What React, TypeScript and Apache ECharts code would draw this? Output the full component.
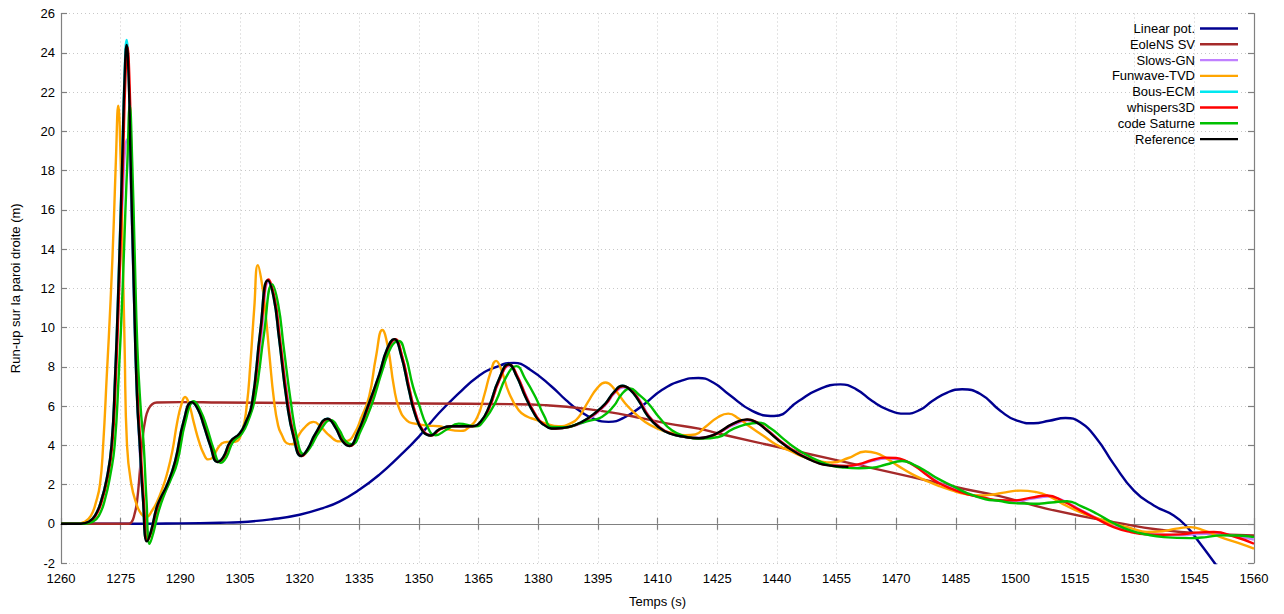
import React, { useEffect, useRef } from "react";
import * as echarts from "echarts";

const X_MIN = 1260;
const X_MAX = 1560;
const X_STEP = 15;
const Y_MIN = -2;
const Y_MAX = 26;
const Y_STEP = 2;

const seriesNames = [
  "Linear pot.",
  "EoleNS SV",
  "Slows-GN",
  "Funwave-TVD",
  "Bous-ECM",
  "whispers3D",
  "code Saturne",
  "Reference",
];
const seriesColors = [
  "#000090",
  "#A52A2A",
  "#C080FF",
  "#FFA500",
  "#00E8F0",
  "#FF0000",
  "#00C000",
  "#000000",
];

const linearPot = [
  [1260, 0], [1280, 0], [1290, 0.02], [1300, 0.05], [1305, 0.08], [1313.4, 0.24], [1320, 0.46],
  [1325.9, 0.8], [1330, 1.13], [1335, 1.73], [1340, 2.49], [1345, 3.42], [1350, 4.44], [1355, 5.63],
  [1360, 6.64], [1364.7, 7.48], [1369, 7.95], [1373.9, 8.2], [1378, 7.85], [1383.5, 6.97], [1387, 6.3],
  [1390.2, 5.78], [1394, 5.35], [1397.7, 5.19], [1402, 5.45], [1406.9, 6.13], [1411, 6.8], [1415.5, 7.25],
  [1420.3, 7.43], [1424, 7.2], [1427.9, 6.6], [1433.8, 5.75], [1439.3, 5.49], [1445.5, 6.25], [1450, 6.8],
  [1456, 7.1], [1460, 6.85], [1464, 6.25], [1468, 5.8], [1472.4, 5.61], [1476, 5.8], [1479.1, 6.25],
  [1483, 6.7], [1486.6, 6.85], [1491.2, 6.61], [1496.2, 5.76], [1500.4, 5.25], [1504.6, 5.12],
  [1508.5, 5.25], [1512.6, 5.39], [1516.3, 5.17], [1520.5, 4.32], [1524.7, 3.05], [1529.8, 1.69],
  [1534.8, 0.93], [1539.8, 0.42], [1543.2, -0.17], [1546.5, -1.02], [1550.1, -2.0], [1552, -2.5],
];

const eoleNS = [
  [1260, 0], [1277, 0], [1277.8, 0.1], [1278.5, 0.5], [1279.1, 1.1], [1279.9, 2.85], [1280.5, 4.3],
  [1281.2, 5.3], [1282, 5.85], [1283, 6.1], [1284.1, 6.18], [1290, 6.2], [1300, 6.18], [1320, 6.15],
  [1350, 6.13], [1375, 6.09], [1382, 6.04], [1387.7, 5.95], [1394, 5.8], [1400.2, 5.61], [1406, 5.38],
  [1412.7, 5.1], [1420.4, 4.85], [1425.3, 4.6], [1437.2, 4.05], [1453.9, 3.29], [1470.7, 2.53],
  [1487.5, 1.76], [1495.8, 1.42], [1508, 0.76], [1524.7, 0.08], [1541.5, -0.42], [1560, -0.59],
];

const slowsGN = [
  [1260, 0], [1265, 0], [1267, 0.1], [1268.5, 0.4], [1270, 1.1], [1271.5, 2.3], [1272.8, 4], [1273.7, 7.5],
  [1274.7, 12.5], [1275.6, 17], [1276.2, 19.3], [1276.7, 19.6], [1277.3, 18.3], [1278, 14], [1278.8, 8.5],
  [1279.6, 4.5], [1280.5, 1.6], [1281.5, -0.2], [1282.4, -0.5], [1283.4, 0], [1284.5, 0.8], [1285.5, 1.3],
  [1287, 2.0], [1289, 3.2], [1291, 5.2], [1293.1, 6.15], [1294.7, 5.8], [1296.1, 5.0], [1297.7, 4.0],
  [1299.5, 3.2], [1301, 3.45], [1302.8, 4.2], [1305.1, 4.6], [1306.7, 5.2], [1308.2, 6.2], [1310.3, 9.4],
  [1312.2, 12.3], [1313.7, 11.5], [1315, 9.5], [1317, 6.4], [1318.7, 4.4], [1320.6, 3.5], [1322.2, 3.8],
  [1324.2, 4.6], [1327.2, 5.3], [1329.2, 4.9], [1331, 4.2], [1332.7, 4.0], [1334.7, 4.6], [1337.2, 5.9],
  [1340.2, 7.6], [1342.2, 8.9], [1344, 9.35], [1345.7, 8.6], [1347.7, 6.8], [1349.2, 5.6], [1351.2, 4.7],
  [1353.2, 4.55], [1355.2, 4.8], [1358.5, 4.97], [1363.6, 4.97], [1365.7, 5.2], [1367.8, 5.95],
  [1370.2, 7.3], [1372.8, 8.05], [1374.8, 7.5], [1377, 6.5], [1379.2, 5.6], [1381.2, 5.1], [1384.5, 4.88],
  [1388.2, 4.95], [1391.2, 5.15], [1394.2, 5.55], [1397.1, 6.1], [1399.2, 6.65], [1401.5, 6.95],
  [1403.3, 6.8], [1405.5, 6.3], [1407.8, 5.5], [1410.5, 4.93], [1413.3, 4.6], [1417.3, 4.42],
  [1420.7, 4.38], [1423.3, 4.47], [1425.6, 4.65], [1429.3, 5.05], [1432.8, 5.27], [1435.3, 5.12],
  [1437.5, 4.8], [1442.5, 3.98], [1448.3, 3.3], [1454, 2.98], [1457.5, 2.93], [1460.6, 3.0], [1464, 3.2],
  [1467.5, 3.32], [1470.2, 3.3], [1472.7, 3.16], [1475.3, 2.88], [1477.7, 2.53], [1480.8, 2.1],
  [1484.5, 1.78], [1488.3, 1.5], [1492, 1.32], [1496, 1.18], [1499.8, 1.15], [1504.3, 1.28],
  [1508.3, 1.38], [1512.3, 1.15], [1516.6, 0.68], [1520.8, 0.25], [1525, -0.15], [1529.3, -0.4],
  [1533.4, -0.54], [1541.8, -0.58], [1546, -0.52], [1550.2, -0.5], [1555, -0.62], [1560, -0.81],
];

const funwave = [
  [1260, 0], [1264, 0], [1266, 0.1], [1267.5, 0.4], [1268.8, 1.1], [1269.8, 2.0], [1270.6, 4],
  [1271.5, 7.5], [1272.5, 11.5], [1273.3, 15.5], [1273.8, 18.5], [1274.4, 21.3], [1275.0, 18.5],
  [1275.5, 14], [1276.0, 9], [1276.6, 4], [1277.7, 2.0], [1279, 1.0], [1280.2, 0.5], [1281.5, 0.35],
  [1283, 0.7], [1284.1, 1.1], [1285.5, 1.8], [1286.6, 2.5], [1288, 3.7], [1289.2, 5.15], [1290.3, 6.1],
  [1291.2, 6.46], [1292.2, 6.1], [1293.4, 5.15], [1294.7, 4.2], [1295.9, 3.56], [1297, 3.28],
  [1298, 3.35], [1299.6, 3.9], [1301, 4.15], [1302, 4.17], [1303.8, 4.18], [1305.5, 4.7], [1306.7, 6.0],
  [1307.6, 8.1], [1308.6, 11], [1309.5, 13.18], [1310.4, 12.4], [1311.4, 10.8], [1312.5, 8.4],
  [1313.5, 6.4], [1314.6, 5.0], [1315.6, 4.5], [1316.8, 4.1], [1318.1, 4.05], [1319.3, 4.35],
  [1321, 4.85], [1323.5, 5.19], [1325.5, 4.9], [1327.5, 4.5], [1330, 4.2], [1332, 4.22], [1333.8, 4.6],
  [1335.5, 5.4], [1337.5, 6.5], [1339.2, 8.5], [1340.8, 9.87], [1342.2, 9.0], [1343.7, 7.0], [1345, 5.9],
  [1347, 5.25], [1349, 5.1], [1352.1, 5.0], [1355.1, 4.97], [1357.5, 4.8], [1360.5, 4.73],
  [1362.5, 4.9], [1364.7, 5.44], [1366.5, 6.6], [1368, 7.7], [1369.4, 8.3], [1370.8, 7.8], [1372.6, 6.7],
  [1375.1, 5.78], [1377.3, 5.45], [1379.3, 5.31], [1382, 5.1], [1385.1, 4.97], [1388, 5.1],
  [1390.2, 5.44], [1392.5, 6.2], [1395, 6.95], [1396.9, 7.2], [1399, 6.9], [1401.9, 6.13],
  [1404.5, 5.6], [1406.9, 5.19], [1410, 4.85], [1413, 4.65], [1417, 4.51], [1419.5, 4.55], [1422, 4.93],
  [1425.3, 5.44], [1427.8, 5.61], [1430.5, 5.35], [1433, 4.98], [1436.5, 4.5], [1439.7, 4.05],
  [1443.5, 3.7], [1447.2, 3.37], [1450.5, 3.2], [1453.9, 3.12], [1458, 3.35], [1462.3, 3.68],
  [1465, 3.6], [1467.3, 3.37], [1470.5, 2.95], [1474, 2.53], [1477.5, 2.2], [1480.7, 1.93], [1484, 1.7],
  [1487.5, 1.51], [1491.2, 1.44], [1494, 1.48], [1497.5, 1.6], [1501.3, 1.69], [1505, 1.62],
  [1508, 1.44], [1512, 1.0], [1516.3, 0.59], [1520.5, 0.28], [1524.7, 0.0], [1529, -0.22],
  [1533.1, -0.42], [1537, -0.38], [1540.5, -0.25], [1544, -0.17], [1547.5, -0.35], [1551.6, -0.68],
  [1556, -0.98], [1560, -1.27],
];

const bousECM = [
  [1260, 0], [1265, 0], [1267, 0.1], [1268.5, 0.4], [1270, 1.1], [1271.5, 2.3], [1272.7, 4], [1273.6, 7.5],
  [1274.5, 12.6], [1275.4, 18.7], [1276, 23], [1276.5, 24.65], [1277, 23], [1277.5, 18.6], [1278.3, 12],
  [1279.1, 6.5], [1279.8, 4], [1280.6, 1.3], [1281.6, -0.85], [1282.6, -0.4], [1284, 0.8], [1285, 1.3],
  [1286.7, 2.0], [1288.7, 3.2], [1290.8, 5.2], [1292.9, 6.2], [1294.5, 5.8], [1295.9, 5.0], [1297.5, 4.0],
  [1299.3, 3.15], [1300.8, 3.4], [1302.6, 4.2], [1304.9, 4.6], [1306.5, 5.2], [1308, 6.1], [1310.1, 9.8],
  [1312, 12.4], [1313.5, 11.5], [1314.8, 9.5], [1316.8, 6.2], [1318.5, 4.4], [1320.4, 3.45], [1322, 3.8],
  [1324, 4.6], [1327, 5.35], [1329, 4.9], [1330.8, 4.2], [1332.5, 3.96], [1334.5, 4.6], [1337, 5.9],
  [1340, 7.6], [1342, 8.9], [1343.8, 9.41], [1345.5, 8.6], [1347.5, 6.8], [1349, 5.6], [1351, 4.7],
  [1353, 4.5], [1355, 4.8], [1358.3, 4.97], [1363.4, 4.97], [1365.5, 5.2], [1367.6, 5.95], [1370, 7.3],
  [1372.6, 8.13], [1374.6, 7.5], [1376.8, 6.46], [1379, 5.6], [1381, 5.1], [1384.3, 4.85], [1388, 4.95],
  [1391, 5.19], [1394, 5.6], [1396.9, 6.13], [1399, 6.7], [1401.2, 7.03], [1403, 6.85], [1405.2, 6.29],
  [1407.5, 5.5], [1410.2, 4.93], [1413, 4.6], [1417, 4.42], [1420.4, 4.36],
];

const whispers3D = [
  [1260, 0], [1265, 0], [1267.2, 0.1], [1268.7, 0.4], [1270.2, 1.1], [1271.7, 2.3], [1272.9, 4],
  [1273.8, 7.5], [1274.7, 12.5], [1275.6, 18.5], [1276.2, 22.7], [1276.7, 24.3], [1277.2, 22.7],
  [1277.7, 18.5], [1278.5, 12], [1279.3, 6.5], [1280, 4], [1280.8, 1.3], [1281.8, -0.85], [1282.8, -0.35],
  [1284.2, 0.8], [1285.2, 1.3], [1286.9, 2.0], [1288.9, 3.2], [1291, 5.2], [1293.1, 6.2], [1294.7, 5.8],
  [1296.1, 5.0], [1297.7, 4.0], [1299.5, 3.15], [1301, 3.4], [1302.8, 4.2], [1305.1, 4.6], [1306.7, 5.2],
  [1308.2, 6.1], [1310.3, 9.9], [1312.2, 12.45], [1313.7, 11.5], [1315, 9.5], [1317, 6.2], [1318.7, 4.4],
  [1320.6, 3.45], [1322.2, 3.8], [1324.2, 4.6], [1327.2, 5.33], [1329.2, 4.9], [1331, 4.2], [1332.7, 3.96],
  [1334.7, 4.6], [1337.2, 5.9], [1340.2, 7.6], [1342.2, 8.9], [1344, 9.4], [1345.7, 8.6], [1347.7, 6.8],
  [1349.2, 5.6], [1351.2, 4.7], [1353.2, 4.5], [1355.2, 4.8], [1358.5, 4.97], [1363.6, 4.97],
  [1365.7, 5.2], [1367.8, 5.95], [1370.2, 7.3], [1372.8, 8.1], [1374.8, 7.5], [1377, 6.46], [1379.2, 5.6],
  [1381.2, 5.1], [1384.5, 4.85], [1388.2, 4.95], [1391.2, 5.19], [1394.2, 5.6], [1397.1, 6.13],
  [1399.2, 6.7], [1401.4, 7.0], [1403.2, 6.85], [1405.4, 6.29], [1407.7, 5.5], [1410.4, 4.93],
  [1413.2, 4.6], [1417.2, 4.42], [1420.6, 4.36], [1423.2, 4.45], [1425.5, 4.65], [1429.2, 5.1],
  [1432.7, 5.3], [1435.2, 5.15], [1437.4, 4.81], [1442.4, 3.97], [1448.2, 3.29], [1454, 2.97],
  [1457.5, 2.95], [1460.6, 3.03], [1464, 3.25], [1467.3, 3.37], [1470, 3.35], [1472.4, 3.2], [1475, 2.9],
  [1477.4, 2.53], [1480.5, 2.1], [1484.2, 1.76], [1488, 1.5], [1491.7, 1.34], [1496, 1.2], [1499.6, 1.19],
  [1504, 1.33], [1508, 1.44], [1512, 1.15], [1516.3, 0.68], [1520.5, 0.25], [1524.7, -0.17], [1529, -0.42],
  [1533.1, -0.54], [1537, -0.56], [1541.5, -0.54], [1545.5, -0.45], [1549.9, -0.42], [1555, -0.65],
  [1560, -1.02],
];

const codeSaturne = [
  [1260, 0], [1266, 0], [1268, 0.1], [1269.5, 0.4], [1271, 1.2], [1272.5, 2.6], [1273.5, 4], [1274.5, 7.5],
  [1275.5, 12], [1276.2, 16], [1276.7, 18.5], [1277.3, 21.3], [1277.9, 18.5], [1278.5, 14], [1279.2, 9],
  [1280.0, 6], [1280.8, 4], [1281.5, 1.2], [1282.3, -1.02], [1283.3, -0.4], [1284.5, 0.6], [1286, 1.5],
  [1287.5, 2.2], [1289.2, 3.1], [1291.3, 5.2], [1293.4, 6.24], [1295, 5.8], [1296.7, 4.9], [1298.4, 3.8],
  [1300.1, 3.1], [1301.6, 3.4], [1303.2, 4.15], [1305.5, 4.6], [1307, 5.2], [1308.8, 6.4], [1311, 9.6],
  [1313.1, 12.2], [1314.6, 11.2], [1316, 9], [1317.8, 6.2], [1319.4, 4.3], [1321, 3.55], [1322.7, 3.9],
  [1325, 4.7], [1327.9, 5.28], [1329.9, 4.8], [1331.6, 4.2], [1333.2, 4.05], [1335.3, 4.7], [1338, 6.0],
  [1340.8, 7.8], [1343, 9.0], [1344.9, 9.32], [1346.6, 8.6], [1348.5, 7.0], [1350, 6.1], [1352, 5.0],
  [1354.2, 4.51], [1357, 4.8], [1360, 5.1], [1364.3, 4.97], [1366.5, 5.3], [1369.3, 6.21], [1372, 7.5],
  [1374.5, 8.03], [1376.7, 7.4], [1379.3, 6.46], [1381.5, 5.5], [1383.5, 4.93], [1387, 4.92],
  [1390.2, 5.1], [1393, 5.25], [1396, 5.44], [1399, 6.0], [1401, 6.6], [1403.1, 6.89], [1405.2, 6.6],
  [1407.7, 6.13], [1410.5, 5.4], [1413.6, 4.76], [1417, 4.45], [1421.1, 4.34], [1425.3, 4.42],
  [1428.8, 4.81], [1432, 5.05], [1435.5, 5.15], [1438.5, 4.85], [1441.3, 4.39], [1444, 3.95],
  [1447.2, 3.54], [1450.5, 3.2], [1453.9, 2.95], [1457, 2.86], [1460.6, 2.83], [1464, 2.86],
  [1467.5, 3.02], [1471.5, 3.2], [1474.5, 3.0], [1477.4, 2.69], [1480.5, 2.3], [1484.2, 1.93],
  [1488, 1.55], [1492.5, 1.25], [1495.8, 1.17], [1499.6, 1.05], [1504.6, 1.02], [1509, 1.08],
  [1513, 1.15], [1516.5, 0.9], [1520.5, 0.51], [1524.5, 0.05], [1528.9, -0.34], [1533, -0.55],
  [1537.3, -0.68], [1544, -0.73], [1548, -0.68], [1551.6, -0.59], [1556, -0.6], [1560, -0.68],
];

const reference = [
  [1260, 0], [1265, 0], [1267, 0.1], [1268.5, 0.4], [1270, 1.1], [1271.5, 2.3], [1272.7, 4], [1273.6, 7.5],
  [1274.5, 12.5], [1275.4, 18.5], [1276, 22.8], [1276.5, 24.4], [1277, 22.8], [1277.5, 18.5], [1278.3, 12],
  [1279.1, 6.5], [1279.8, 4], [1280.6, 1.3], [1281.6, -0.9], [1282.6, -0.4], [1284, 0.8], [1285, 1.3],
  [1286.7, 2.0], [1288.7, 3.2], [1290.8, 5.2], [1292.9, 6.2], [1294.5, 5.8], [1295.9, 5.0], [1297.5, 4.0],
  [1299.3, 3.15], [1300.8, 3.4], [1302.6, 4.2], [1304.9, 4.6], [1306.5, 5.2], [1308, 6.1], [1310.1, 9.8],
  [1312, 12.4], [1313.5, 11.5], [1314.8, 9.5], [1316.8, 6.2], [1318.5, 4.4], [1320.4, 3.45], [1322, 3.8],
  [1324, 4.6], [1327, 5.35], [1329, 4.9], [1330.8, 4.2], [1332.5, 3.96], [1334.5, 4.6], [1337, 5.9],
  [1340, 7.6], [1342, 8.9], [1343.8, 9.41], [1345.5, 8.6], [1347.5, 6.8], [1349, 5.6], [1351, 4.7],
  [1353, 4.5], [1355, 4.8], [1358.3, 4.97], [1363.4, 4.97], [1365.5, 5.2], [1367.6, 5.95], [1370, 7.3],
  [1372.6, 8.13], [1374.6, 7.5], [1376.8, 6.46], [1379, 5.6], [1381, 5.1], [1384.3, 4.85], [1388, 4.95],
  [1391, 5.19], [1394, 5.6], [1396.9, 6.13], [1399, 6.7], [1401.2, 7.03], [1403, 6.85], [1405.2, 6.29],
  [1407.5, 5.5], [1410.2, 4.93], [1413, 4.6], [1417, 4.42], [1420.4, 4.36], [1423, 4.45], [1425.3, 4.65],
  [1429, 5.1], [1432.5, 5.32], [1435, 5.15], [1437.2, 4.81], [1442.2, 3.97], [1448, 3.29], [1453.9, 2.95],
  [1458, 2.9],
];

const seriesData = [linearPot, eoleNS, slowsGN, funwave, bousECM, whispers3D, codeSaturne, reference];

export default function App() {
  const ref = useRef<HTMLDivElement>(null);

  useEffect(() => {
    document.body.style.margin = "0";
    const chart = echarts.init(ref.current as HTMLDivElement, null, { renderer: "svg" });
    const frame = { show: true, lineStyle: { color: "#808080", width: 1.2 } };
    const tick = { show: true, inside: true, length: 6, lineStyle: { color: "#808080", width: 1.2 } };
    const font = "Liberation Sans, Arial, Helvetica, sans-serif";
    chart.setOption({
      animation: false,
      textStyle: { fontFamily: font },
      grid: { left: 61, right: 30, top: 13.5, bottom: 51, containLabel: false },
      legend: {
        orient: "vertical",
        right: 46,
        top: 22,
        padding: 0,
        align: "right",
        icon: "rect",
        itemWidth: 38,
        itemHeight: 2.4,
        itemGap: 2.8,
        textStyle: { color: "#000", fontSize: 13, fontFamily: font },
        data: seriesNames,
        selectedMode: false,
      },
      xAxis: [
        {
          type: "value",
          min: X_MIN,
          max: X_MAX,
          interval: X_STEP,
          position: "bottom",
          name: "Temps (s)",
          nameLocation: "middle",
          nameGap: 32,
          nameTextStyle: { color: "#000", fontSize: 13, fontFamily: font },
          axisLine: frame,
          axisTick: tick,
          axisLabel: { color: "#000", fontSize: 13, margin: 9, fontFamily: font, formatter: (v: number) => String(v) },
          splitLine: { show: true, lineStyle: { color: "#c8c8c8", type: [1, 3], width: 1 } },
        },
        {
          type: "value",
          min: X_MIN,
          max: X_MAX,
          interval: X_STEP,
          position: "top",
          axisLine: frame,
          axisTick: tick,
          axisLabel: { show: false },
          splitLine: { show: false },
        },
      ],
      yAxis: [
        {
          type: "value",
          min: Y_MIN,
          max: Y_MAX,
          interval: Y_STEP,
          position: "left",
          name: "Run-up sur la paroi droite (m)",
          nameLocation: "middle",
          nameGap: 39,
          nameTextStyle: { color: "#000", fontSize: 13, fontFamily: font },
          axisLine: frame,
          axisTick: tick,
          axisLabel: { color: "#000", fontSize: 13, margin: 6, fontFamily: font, formatter: (v: number) => String(v) },
          splitLine: { show: true, lineStyle: { color: "#c8c8c8", type: [1, 3], width: 1 } },
        },
        {
          type: "value",
          min: Y_MIN,
          max: Y_MAX,
          interval: Y_STEP,
          position: "right",
          axisLine: frame,
          axisTick: tick,
          axisLabel: { show: false },
          splitLine: { show: false },
        },
      ],
      series: seriesNames.map((name, i) => ({
        name,
        type: "line",
        data: seriesData[i],
        xAxisIndex: 0,
        yAxisIndex: 0,
        smooth: 0.5,
        symbol: "none",
        showSymbol: false,
        clip: true,
        color: seriesColors[i],
        lineStyle: { color: seriesColors[i], width: 2.4 },
        emphasis: { disabled: true },
        silent: true,
      })),
    });
    return () => chart.dispose();
  }, []);

  return <div ref={ref} style={{ width: 1284, height: 614 }} />;
}
